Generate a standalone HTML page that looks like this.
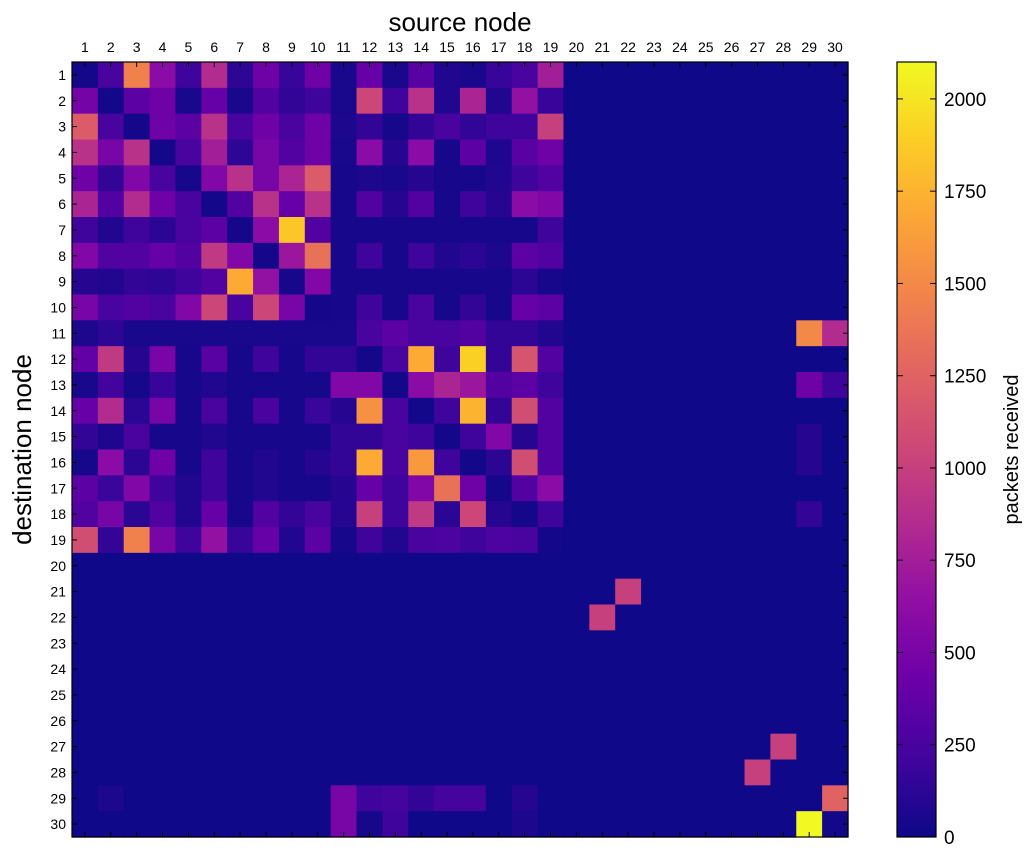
<!DOCTYPE html>
<html><head><meta charset="utf-8">
<style>
body{margin:0;background:#fff;}
svg{display:block;font-family:"Liberation Sans","DejaVu Sans",sans-serif;}
</style></head>
<body>
<svg id="chart" width="1031" height="857" viewBox="0 0 1031 857" xmlns="http://www.w3.org/2000/svg">
<defs>
<linearGradient id="plasma" x1="0" y1="1" x2="0" y2="0">
<stop offset="0" stop-color="#0d0887"/><stop offset="0.1" stop-color="#41049d"/><stop offset="0.2" stop-color="#6a00a8"/><stop offset="0.3" stop-color="#8f0da4"/><stop offset="0.4" stop-color="#b12a90"/><stop offset="0.5" stop-color="#cc4778"/><stop offset="0.6" stop-color="#e16462"/><stop offset="0.7" stop-color="#f2844b"/><stop offset="0.8" stop-color="#fca636"/><stop offset="0.9" stop-color="#fcce25"/><stop offset="1" stop-color="#f0f921"/>
</linearGradient>
</defs>
<g id="cells"></g>
<g id="axes"></g>
</svg>
<script>
const sourceNodes = Array.from({length:30},(_,i)=>String(i+1));
const destNodes = Array.from({length:30},(_,i)=>String(i+1));
const colorbarTicks = [0,250,500,750,1000,1250,1500,1750,2000];
const vmax = 2100;
const B = 8;
const r1  = [30,250,1450,600,200,850,130,450,170,450, 50,400,50,330,80,50,170,250,750];
const r2  = [480,30,350,450,50,400,50,300,150,200, 50,1050,200,900,80,800,80,650,170];
const r3  = [1200,250,30,450,350,900,250,450,250,450, 60,150,40,150,250,150,200,200,1000];
const r4  = [900,500,900,30,250,750,130,500,300,450, 50,600,100,600,40,350,70,330,450];
const r5  = [450,150,550,250,40,550,900,500,800,1200, 40,60,50,100,40,40,80,200,300];
const r6  = [800,300,850,450,250,30,300,900,400,900, 40,300,100,300,40,200,100,600,550];
const r7  = [200,80,200,120,250,350,30,600,1850,300, 40,40,40,40,40,40,40,40,200];
const r8  = [550,300,300,400,300,950,550,30,700,1350, 40,200,40,200,80,120,60,350,300];
const r9  = [100,80,150,130,200,300,1700,650,40,550, 40,40,40,40,40,40,40,120,40];
const r10 = [500,250,300,250,550,1050,250,1050,500,30, 40,200,40,250,40,150,40,400,350];
const r11 = [60,130,50,50,50,50,50,50,50,50, 50,250,350,250,250,300,150,150,80];
const r12 = [380,950,100,500,40,330,40,200,40,150, 150,30,250,1700,200,1900,150,1150,300];
const r13 = [50,220,40,170,40,80,40,40,40,40, 550,550,20,600,800,700,300,350,200];
const r14 = [400,850,120,500,40,250,40,250,40,180, 100,1550,250,20,200,1750,150,1100,300];
const r15 = [150,70,250,40,40,80,40,40,40,40, 150,150,250,200,30,200,550,100,300];
const r16 = [40,600,120,450,40,200,40,80,40,100, 150,1700,250,1600,200,20,120,1100,300];
const r17 = [350,180,550,200,80,200,40,80,40,40, 100,400,200,550,1350,450,30,300,600];
const r18 = [300,500,120,300,80,400,40,300,150,250, 100,1000,200,950,120,1050,100,30,200];
const r19 = [1100,150,1450,500,200,650,170,400,80,350, 40,200,80,250,270,200,270,250,30];
// extra cells outside the 19x19 block: [row, col, value]
const extraCells = [[11,29,1500],[11,30,850],[13,29,450],[13,30,200],[15,29,100],[16,29,100],[18,29,150],
 [21,22,1000],[22,21,1000],[27,28,1000],[28,27,1000],
 [29,2,60],[29,11,500],[29,12,200],[29,13,230],[29,14,150],[29,15,230],[29,16,230],[29,18,100],[29,30,1250],
 [30,11,500],[30,12,40],[30,13,200],[30,18,60],[30,29,2100],[30,30,20]];
const blockRows=[r1,r2,r3,r4,r5,r6,r7,r8,r9,r10,r11,r12,r13,r14,r15,r16,r17,r18,r19];

const stops=[[13,8,135],[65,4,157],[106,0,168],[143,13,164],[177,42,144],[204,71,120],[225,100,98],[242,132,75],[252,166,54],[252,206,37],[240,249,33]];
function plasma(v){let t=Math.max(0,Math.min(1,v/vmax))*10;let i=Math.min(9,Math.floor(t));let f=t-i;
 const a=stops[i],b=stops[i+1];return `rgb(${a.map((c,k)=>Math.round(c+(b[k]-c)*f)).join(',')})`;}

const X0=72,X1=848,Y0=62,Y1=837,N=30,cw=(X1-X0)/N,ch=(Y1-Y0)/N;
const xs=c=>X0+c*cw, ys=r=>Y0+r*ch;
const NS="http://www.w3.org/2000/svg";
function mk(tag,attrs,parent){const e=document.createElementNS(NS,tag);for(const k in attrs)e.setAttribute(k,attrs[k]);parent.appendChild(e);return e;}
const M=[];for(let r=0;r<N;r++){M.push([]);for(let c=0;c<N;c++)M[r].push(B);}
blockRows.forEach((row,r)=>row.forEach((v,c)=>{M[r][c]=v;}));
extraCells.forEach(([r,c,v])=>{M[r-1][c-1]=v;});
const cells=document.getElementById('cells');
for(let r=0;r<N;r++)for(let c=0;c<N;c++){
 const e=mk('rect',{x:xs(c).toFixed(2),y:ys(r).toFixed(2),width:(cw+0.6).toFixed(2),height:(ch+0.6).toFixed(2),fill:plasma(M[r][c])},cells);
 
 
}
const ax=document.getElementById('axes');
const fr=mk('rect',{x:X0,y:Y0,width:X1-X0,height:Y1-Y0,fill:'none',stroke:'#000','stroke-width':1.2},ax);


sourceNodes.forEach((lab,i)=>{
 const x=xs(i+0.5);
 mk('line',{x1:x,y1:Y0,x2:x,y2:Y0+5,stroke:'#000'},ax);
 mk('line',{x1:x,y1:Y1,x2:x,y2:Y1-5,stroke:'#000'},ax);
 const t=mk('text',{x:x,y:52,'font-size':14,'text-anchor':'middle'},ax);t.textContent=lab;
 
 
});
destNodes.forEach((lab,i)=>{
 const y=ys(i+0.5);
 mk('line',{x1:X0,y1:y,x2:X0+5,y2:y,stroke:'#000'},ax);
 mk('line',{x1:X1,y1:y,x2:X1-5,y2:y,stroke:'#000'},ax);
 const t=mk('text',{x:66,y:y+5,'font-size':14,'text-anchor':'end'},ax);t.textContent=lab;
 
 
});
let t=mk('text',{x:460,y:31,'font-size':26,'text-anchor':'middle'},ax);t.textContent='source node';


t=mk('text',{x:0,y:0,'font-size':26,'text-anchor':'middle',transform:`translate(31,${(Y0+Y1)/2}) rotate(-90)`},ax);t.textContent='destination node';


// colorbar
const CX0=897,CX1=936;
const cb=mk('rect',{x:CX0,y:Y0,width:CX1-CX0,height:Y1-Y0,fill:'url(#plasma)',stroke:'#000','stroke-width':1.2},ax);


const cy=v=>Y1-(v/vmax)*(Y1-Y0);
colorbarTicks.forEach(v=>{
 const y=cy(v);
 mk('line',{x1:CX1,y1:y,x2:CX1-6,y2:y,stroke:'#000'},ax);
 mk('line',{x1:CX0,y1:y,x2:CX0+6,y2:y,stroke:'#000'},ax);
 const l=mk('text',{x:944,y:y+7,'font-size':19},ax);l.textContent=String(v);
 
 
});
t=mk('text',{x:0,y:0,'font-size':20,'text-anchor':'middle',transform:`translate(1018,${(Y0+Y1)/2}) rotate(-90)`},ax);t.textContent='packets received';


</script>
</body></html>
